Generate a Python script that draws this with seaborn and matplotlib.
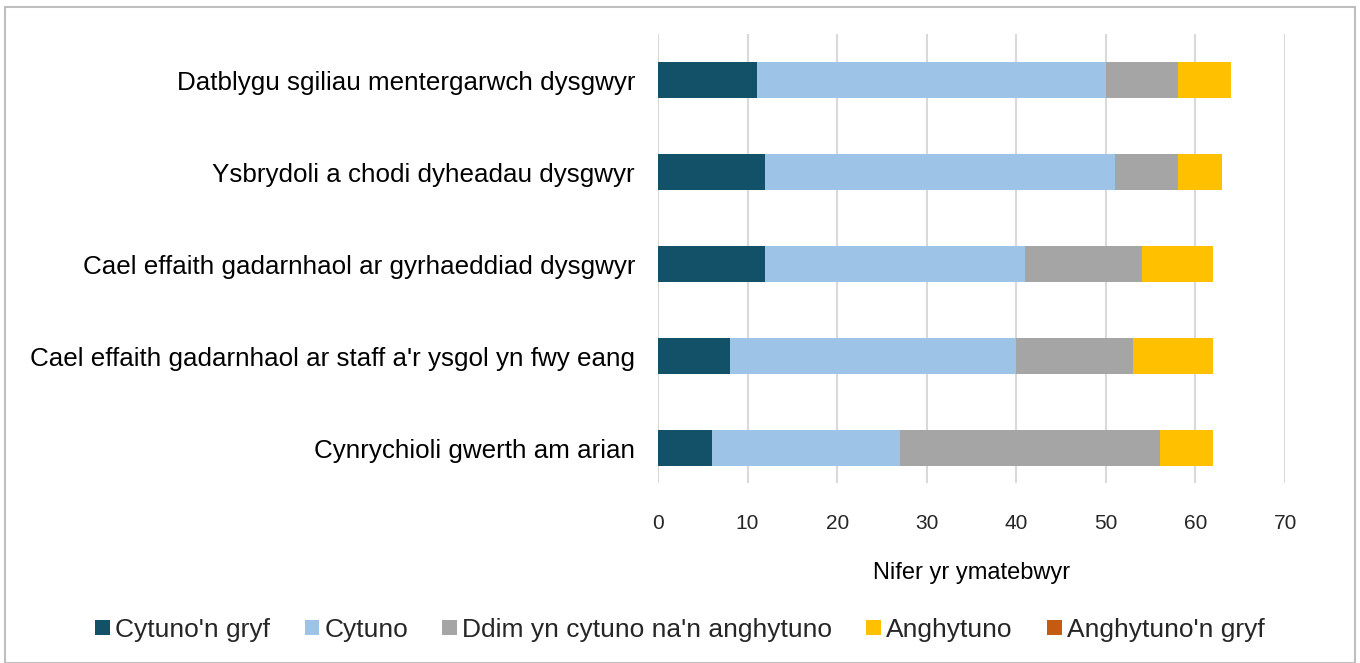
import pandas as pd
import numpy as np
import matplotlib.pyplot as plt
import seaborn as sns

# Data
statements = [
    'Datblygu sgiliau mentergarwch dysgwyr',
    'Ysbrydoli a chodi dyheadau dysgwyr',
    'Cael effaith gadarnhaol ar gyrhaeddiad dysgwyr',
    "Cael effaith gadarnhaol ar staff a'r ysgol yn fwy eang",
    'Cynrychioli gwerth am arian',
]
responses = ["Cytuno'n gryf", 'Cytuno', "Ddim yn cytuno na'n anghytuno", 'Anghytuno', "Anghytuno'n gryf"]
cytuno_gryf = [11, 12, 12, 8, 6]
cytuno = [39, 39, 29, 32, 21]
ddim = [8, 7, 13, 13, 29]
anghytuno = [6, 5, 8, 9, 6]
anghytuno_gryf = [0, 0, 0, 0, 0]

colors = ['#135169', '#9DC3E6', '#A5A5A5', '#FFC000', '#C55A11']

df = pd.DataFrame({'Statement': statements,
                   responses[0]: cytuno_gryf,
                   responses[1]: cytuno,
                   responses[2]: ddim,
                   responses[3]: anghytuno,
                   responses[4]: anghytuno_gryf})

# cumulative totals for stacking (draw the longest first, shorter ones on top)
cum = df[responses].cumsum(axis=1)

sns.set_style('white')
plt.rcParams['font.family'] = ['Liberation Sans', 'DejaVu Sans']

fig = plt.figure(figsize=(13.6, 6.63), dpi=100)
ax = fig.add_axes([0.4838, 0.2715, 0.4611, 0.6772])

for r, c in reversed(list(zip(responses, colors))):
    sns.barplot(x=cum[r], y=df['Statement'], color=c, width=0.4, orient='h',
                ax=ax, label=r, saturation=1, linewidth=0)

ax.set_xlim(0, 70)
ax.set_ylim(4.38, -0.5)
ax.set_xticks(np.arange(0, 71, 10))
ax.grid(axis='x', color='#D9D9D9', linewidth=1.5)
ax.set_axisbelow(True)
for s in ax.spines.values():
    s.set_visible(False)
ax.tick_params(axis='x', length=0, labelsize=15, colors='#262626', pad=22)
ax.tick_params(axis='y', length=0, labelsize=18.7, colors='black', pad=16.5)
ax.set_ylabel('')
ax.set_xlabel('Nifer yr ymatebwyr', fontsize=17, color='black', labelpad=21)

handles, labels = ax.get_legend_handles_labels()
order = [labels.index(r) for r in responses]
fig.legend([handles[i] for i in order], responses, loc='center',
           bbox_to_anchor=(0.5, 0.05), ncol=5, frameon=False, fontsize=19,
           handlelength=0.55, handleheight=0.55, handletextpad=0.2, columnspacing=1.3)
if ax.legend_:
    ax.legend_.remove()

# outer border
fig.patches.append(plt.Rectangle((0.004, 0.0), 0.992, 0.99, transform=fig.transFigure,
                                 fill=False, edgecolor='#BFBFBF', linewidth=1.5))

fig.savefig('out.png', dpi=100)
